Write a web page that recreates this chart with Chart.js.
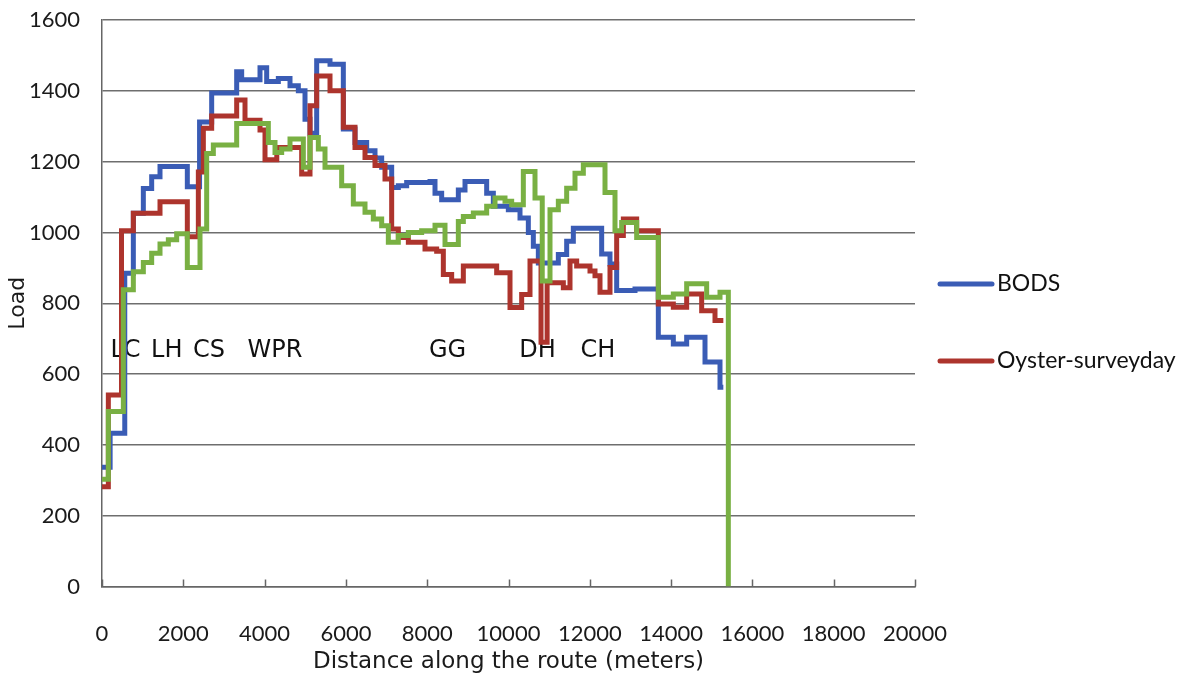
<!DOCTYPE html>
<html>
<head>
<meta charset="utf-8">
<script src="https://cdn.jsdelivr.net/npm/chart.js@4/dist/chart.umd.min.js"></script>
<style>
  html, body { margin: 0; padding: 0; background: #ffffff; }
  #wrap { width: 1196px; height: 681px; position: relative; }
</style>
</head>
<body>
<div id="wrap"><canvas id="c" width="1196" height="681"></canvas></div>
<script>
// ---- data (distance in meters where a step starts, load on that step) ----
const bodsX = [0, 200, 560, 771, 1017, 1222, 1427, 2099, 2400, 2698, 3313, 3436, 3887, 4051, 4338, 4625, 4830, 4994, 5117, 5281, 5609, 5937, 6224, 6511, 6716, 6880, 7126, 7290, 7495, 8069, 8192, 8356, 8766, 8930, 9463, 9627, 9996, 10283, 10488, 10611, 10734, 11226, 11431, 11595, 12292, 12497, 12661, 13112, 13686, 14055, 14383, 14834, 15203, 15285];
const bodsLoad = [337, 433, 885, 1054, 1124, 1157, 1186, 1129, 1312, 1394, 1454, 1431, 1465, 1426, 1435, 1414, 1400, 1320, 1280, 1485, 1475, 1292, 1254, 1231, 1210, 1184, 1127, 1132, 1141, 1144, 1111, 1092, 1120, 1144, 1111, 1074, 1064, 1041, 1000, 961, 914, 938, 975, 1012, 939, 911, 836, 840, 704, 685, 704, 634, 563, 563];

const oysterX = [0, 156, 480, 771, 1427, 2099, 2370, 2493, 2698, 3313, 3518, 3887, 4010, 4300, 4912, 5117, 5281, 5609, 5937, 6224, 6470, 6716, 6962, 7126, 7290, 7536, 7946, 8233, 8397, 8602, 8889, 9709, 10037, 10324, 10529, 10800, 10950, 11349, 11513, 11677, 12005, 12128, 12251, 12497, 12661, 12825, 13153, 13686, 14055, 14383, 14752, 15080, 15285];
const oysterLoad = [282, 541, 1005, 1054, 1087, 988, 1171, 1294, 1329, 1374, 1317, 1289, 1205, 1240, 1165, 1358, 1442, 1400, 1297, 1240, 1212, 1189, 1151, 1010, 986, 972, 953, 947, 881, 863, 905, 886, 788, 825, 919, 690, 858, 844, 919, 905, 891, 878, 831, 901, 991, 1038, 1005, 798, 789, 826, 779, 751, 751];

const thirdX = [0, 156, 525, 771, 1017, 1222, 1427, 1632, 1837, 2099, 2411, 2575, 2739, 3313, 4092, 4256, 4420, 4625, 4953, 5117, 5322, 5486, 5896, 6183, 6470, 6675, 6880, 7044, 7290, 7536, 7864, 8192, 8438, 8766, 8889, 9135, 9463, 9668, 9914, 10078, 10365, 10652, 10830, 11021, 11226, 11431, 11636, 11841, 12374, 12620, 12784, 13153, 13686, 14055, 14383, 14875, 15203, 15408];
const thirdLoad = [303, 494, 838, 889, 915, 941, 967, 979, 996, 901, 1010, 1223, 1247, 1308, 1254, 1226, 1236, 1264, 1184, 1268, 1236, 1184, 1132, 1080, 1057, 1038, 1019, 972, 991, 1000, 1005, 1020, 966, 1031, 1045, 1055, 1074, 1097, 1088, 1078, 1172, 1097, 863, 1064, 1088, 1125, 1167, 1191, 1113, 1005, 1028, 986, 817, 826, 855, 817, 831, 0];

const xTicks = [0, 2000, 4000, 6000, 8000, 10000, 12000, 14000, 16000, 18000, 20000];
const yTicks = [0, 200, 400, 600, 800, 1000, 1200, 1400, 1600];

const stopNames = ['LC', 'LH', 'CS', 'WPR', 'GG', 'DH', 'CH'];
const stopX = [578, 1592, 2632, 4256, 8499, 10713, 12202];
const stopLabelLoad = 648;

const seriesNames = ['BODS', 'Oyster-surveyday'];

// ---- helpers ----
const toPts = (xs, ys) => xs.map((x, i) => ({ x: x, y: ys[i] }));
const COLORS = { bods: '#3a5cb5', oyster: '#ad342d', third: '#79b043' };

const annotate = {
  id: 'annotate',
  beforeDatasetsDraw(chart) {
    const ctx = chart.ctx, xs = chart.scales.x, ys = chart.scales.y;
    ctx.save();
    ctx.font = '24px "DejaVu Sans"';
    ctx.fillStyle = '#111';
    ctx.textAlign = 'center';
    ctx.textBaseline = 'alphabetic';
    stopNames.forEach((n, i) => {
      ctx.fillText(n, xs.getPixelForValue(stopX[i]), ys.getPixelForValue(stopLabelLoad));
    });
    ctx.restore();
  },
  afterDraw(chart) {
    const ctx = chart.ctx, xs = chart.scales.x, area = chart.chartArea;
    ctx.save();
    // inside tick marks on the x axis
    ctx.strokeStyle = '#666';
    ctx.lineWidth = 1.5;
    xTicks.forEach(v => {
      const px = Math.round(xs.getPixelForValue(v)) + 0.5;
      ctx.beginPath();
      ctx.moveTo(px, area.bottom);
      ctx.lineTo(px, area.bottom - 7);
      ctx.stroke();
    });
    // legend
    const legendY = [284, 361];
    const legendCol = [COLORS.bods, COLORS.oyster];
    ctx.font = '23px Lato';
    ctx.textBaseline = 'middle';
    ctx.textAlign = 'left';
    seriesNames.forEach((n, i) => {
      ctx.strokeStyle = legendCol[i];
      ctx.lineWidth = 5;
      ctx.lineCap = 'round';
      ctx.beginPath();
      ctx.moveTo(940, legendY[i]);
      ctx.lineTo(992, legendY[i]);
      ctx.stroke();
      ctx.fillStyle = '#111';
      ctx.fillText(n, 997, legendY[i]);
    });
    ctx.restore();
  }
};

const tickFont = { family: 'Lato', size: 22 };

new Chart(document.getElementById('c'), {
  type: 'line',
  data: {
    datasets: [
      { label: seriesNames[0], data: toPts(bodsX, bodsLoad), borderColor: COLORS.bods, order: 3 },
      { label: seriesNames[1], data: toPts(oysterX, oysterLoad), borderColor: COLORS.oyster, order: 2 },
      { label: '', data: toPts(thirdX, thirdLoad), borderColor: COLORS.third, order: 1 }
    ]
  },
  options: {
    responsive: false,
    devicePixelRatio: 1,
    animation: false,
    layout: { padding: { top: 20, right: 281, left: 0, bottom: 0 } },
    elements: {
      point: { radius: 0, hoverRadius: 0 },
      line: { borderWidth: 5, stepped: true, tension: 0, fill: false, borderJoinStyle: 'miter', borderCapStyle: 'butt' }
    },
    plugins: { legend: { display: false }, tooltip: { enabled: false } },
    scales: {
      x: {
        type: 'linear', min: 0, max: 20000,
        afterBuildTicks: s => { s.ticks = xTicks.map(v => ({ value: v })); },
        afterFit: s => { s.height = 94.5; s.paddingLeft = 0; s.paddingRight = 0; },
        ticks: { font: tickFont, color: '#1a1a1a', padding: 34, maxRotation: 0, autoSkip: false, callback: v => String(v) },
        grid: { display: false, drawTicks: false },
        border: { display: true, color: '#666', width: 1.5 },
        title: { display: true, text: 'Distance along the route (meters)', color: '#1a1a1a', font: { family: 'DejaVu Sans', size: 23 }, padding: { top: 0, bottom: 5 } }
      },
      y: {
        min: 0, max: 1600,
        afterBuildTicks: s => { s.ticks = yTicks.map(v => ({ value: v })); },
        afterFit: s => { s.width = 102; s.paddingTop = 0; s.paddingBottom = 0; },
        ticks: { font: tickFont, color: '#1a1a1a', padding: 22, callback: v => String(v) },
        grid: { color: '#6e6e6e', lineWidth: 1.4, drawTicks: false },
        border: { display: true, color: '#666', width: 1.5 },
        title: { display: true, text: 'Load', color: '#1a1a1a', font: { family: 'DejaVu Sans', size: 22 }, padding: { top: 5, bottom: 0 } }
      }
    }
  },
  plugins: [annotate]
});
</script>
</body>
</html>
